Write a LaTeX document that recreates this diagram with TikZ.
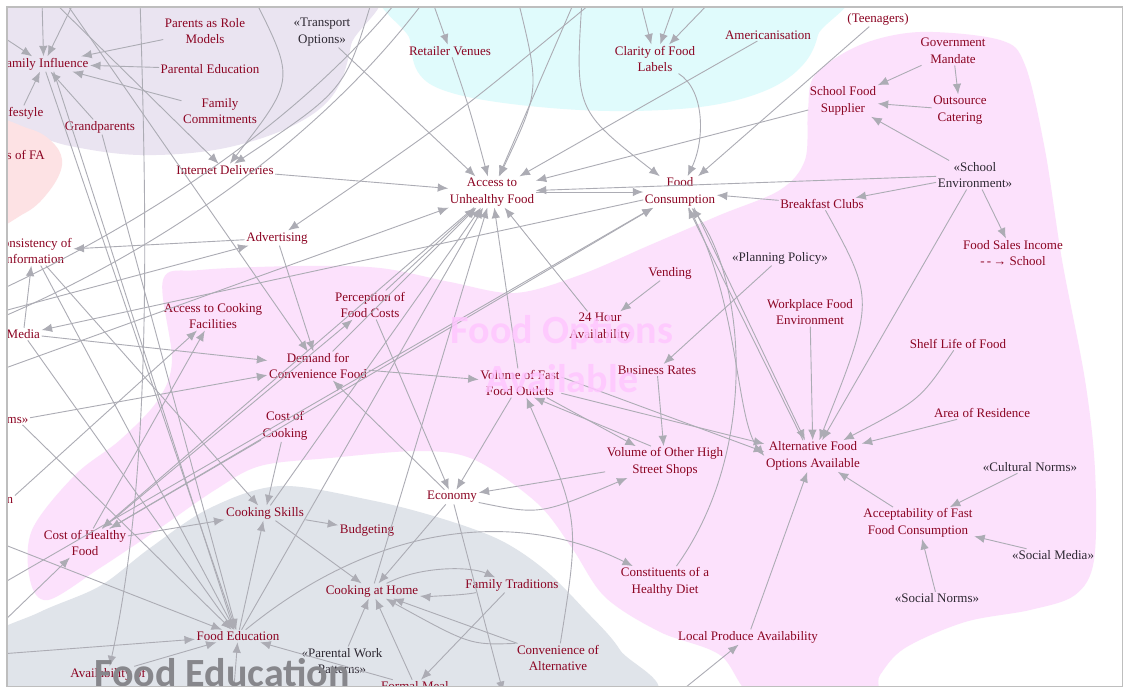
\documentclass[tikz,border=0pt]{standalone}
\usepackage{fontspec}
\setmainfont{Liberation Serif}
\newfontfamily\titlefont{Carlito}
\usetikzlibrary{arrows.meta}
\definecolor{txtred}{RGB}{140,5,35}
\definecolor{txtblk}{RGB}{45,40,50}
\definecolor{lnc}{RGB}{172,172,180}
\definecolor{lav}{RGB}{234,228,241}
\definecolor{salmon}{RGB}{253,226,228}
\definecolor{cyanbg}{RGB}{224,251,252}
\definecolor{pinkbg}{RGB}{252,225,252}
\definecolor{greybg}{RGB}{224,228,234}
\definecolor{titlepink}{RGB}{255,198,255}
\definecolor{titlegrey}{RGB}{135,135,140}
\definecolor{framec}{RGB}{190,190,190}
\begin{document}
\begin{tikzpicture}[x=1pt,y=-1pt,
  lbl/.style={font=\fontsize{13}{16.5}\selectfont, text=txtred, align=center, inner sep=1.5pt},
  stereo/.style={lbl, text=txtblk},
  edge/.style={draw=lnc, line width=0.9pt, -{Latex[length=10.5pt,width=8.5pt]}},
  plain/.style={draw=lnc, line width=0.9pt},
  titl/.style={font=\titlefont\bfseries\fontsize{40}{52}\selectfont, inner sep=0pt}
]
\useasboundingbox (0,0) rectangle (1124,688);
\fill[white] (0,0) rectangle (1124,688);
\begin{scope}
\clip (7.5,7.5) rectangle (1122.5,686.5);
% ---------- background regions ----------
\fill[lav] plot[smooth cycle, tension=0.6] coordinates {(-20,-20) (355,-20) (351,45) (333,95) (290,127) (220,149) (140,155) (70,146) (25,132) (-20,124)};
\fill[salmon] plot[smooth cycle, tension=0.6] coordinates {(-20,124) (30,129) (55,145) (62,165) (50,190) (25,213) (-20,226)};
\fill[cyanbg] plot[smooth cycle, tension=0.6] coordinates {(408,-20) (410,40) (420,75) (452,93) (520,105) (610,111) (700,107) (762,92) (800,68) (818,35) (822,-20)};
\fill[pinkbg] plot[smooth cycle, tension=0.55] coordinates {(163,280) (200,270) (300,266) (380,268) (450,282) (515,293) (580,275) (650,245) (720,215) (780,190) (805,160) (808,110) (815,75) (860,45) (920,32) (1000,40) (1025,65) (1045,150) (1062,260) (1085,380) (1095,470) (1094,560) (1075,595) (1030,610) (965,622) (905,648) (880,675) (868,700) (760,700) (720,655) (660,632) (605,597) (572,548) (537,503) (475,460) (420,451) (330,458) (260,466) (215,490) (160,528) (100,568) (48,600) (30,580) (32,530) (75,475) (120,440) (158,400) (172,360)};
\fill[greybg] plot[smooth cycle, tension=0.55] coordinates {(-20,645) (40,612) (100,586) (150,548) (210,508) (280,486) (370,500) (440,518) (500,540) (545,570) (585,610) (620,650) (640,700) (300,720) (-20,720)};
% ---------- nodes ----------
\node[lbl, anchor=east] (FI) at (90,64) {Family Influence};
\node[lbl] (PRM) at (205,31) {Parents as Role\\Models};
\node[lbl] (PE) at (210,69) {Parental Education};
\node[lbl] (FCm) at (220,111) {Family\\Commitments};
\node[lbl, anchor=east] (LS) at (45,113) {Lifestyle};
\node[lbl] (GP) at (100,127) {Grandparents};
\node[stereo] (TO) at (322,32) {«Transport\\Options»};
\node[lbl, anchor=west] (SFA) at (5,155) {s of FA};
\node[lbl] (RV) at (450,51) {Retailer Venues};
\node[lbl] (CFL) at (655,59) {Clarity of Food\\Labels};
\node[lbl] (AM) at (768,35) {Americanisation};
\node[lbl] (TEEN) at (878,19) {(Teenagers)};
\node[lbl] (GM) at (953,51) {Government\\Mandate};
\node[lbl] (SFS) at (843,101) {School Food\\Supplier};
\node[lbl] (OC) at (960,110) {Outsource\\Catering};
\node[stereo] (SE) at (975,175) {«School\\Environment»};
\node[lbl] (BC) at (822,204) {Breakfast Clubs};
\node[lbl] (FSI) at (1013,253) {Food Sales Income\\-\,-\,→ School};
\node[lbl] (AUF) at (492,192) {Access to\\Unhealthy Food};
\node[lbl] (FCn) at (680,192) {Food\\Consumption};
\node[lbl] (ID) at (225,170) {Internet Deliveries};
\node[lbl] (ADV) at (277,238) {Advertising};
\node[lbl] (CI) at (33,251) {Consistency of\\Information};
\node[lbl, anchor=west] (MED) at (5,334) {Media};
\node[lbl] (ACF) at (213,316) {Access to Cooking\\Facilities};
\node[lbl] (PFC) at (370,305) {Perception of\\Food Costs};
\node[lbl] (DCF) at (318,366) {Demand for\\Convenience Food};
\node[lbl] (CoC) at (285,426) {Cost of\\Cooking};
\node[lbl] (VEN) at (670,273) {Vending};
\node[lbl] (H24) at (600,327) {24 Hour\\Availability};
\node[lbl] (VFF) at (520,383) {Volume of Fast\\Food Outlets};
\node[lbl] (BR) at (657,370) {Business Rates};
\node[stereo] (PP) at (780,258) {«Planning Policy»};
\node[lbl] (WFE) at (810,312) {Workplace Food\\Environment};
\node[lbl] (SL) at (958,344) {Shelf Life of Food};
\node[lbl] (AR) at (982,413) {Area of Residence};
\node[lbl] (AFO) at (813,456) {Alternative Food\\Options Available};
\node[stereo] (CN) at (1030,467) {«Cultural Norms»};
\node[lbl] (AFC) at (918,523) {Acceptability of Fast\\Food Consumption};
\node[stereo] (SM) at (1053,555) {«Social Media»};
\node[stereo] (SN) at (937,598) {«Social Norms»};
\node[lbl] (VOS) at (665,462) {Volume of Other High\\Street Shops};
\node[lbl] (ECO) at (452,497) {Economy};
\node[lbl] (CHD) at (665,582) {Constituents of a\\Healthy Diet};
\node[lbl] (LPA) at (748,637) {Local Produce Availability};
\node[lbl] (CS) at (265,513) {Cooking Skills};
\node[lbl] (BUD) at (367,530) {Budgeting};
\node[lbl] (CHF) at (85,543) {Cost of Healthy\\Food};
\node[lbl] (CAH) at (372,591) {Cooking at Home};
\node[lbl] (FT) at (512,585) {Family Traditions};
\node[lbl] (FE) at (238,636) {Food Education};
\node[lbl] (CoA) at (558,658) {Convenience of\\Alternative};
\node[stereo] (PW) at (342,661) {«Parental Work\\Patterns»};
\node[lbl] (FM) at (415,686) {Formal Meal};
\node[lbl] (AV) at (108,674) {Availability of};
\node[lbl, anchor=west] (MS) at (5,420) {ms»};
\node[lbl, anchor=west] (N) at (5,500) {n};
% ---------- free ends ----------
\coordinate (t1) at (42,0);   \coordinate (t2) at (75,0);   \coordinate (t3) at (52,0);
\coordinate (t4) at (64,0);   \coordinate (t5) at (255,0);  \coordinate (t6) at (372,0);
\coordinate (t7) at (140,0);  \coordinate (t8) at (398,0);  \coordinate (t9) at (425,0);
\coordinate (t10) at (432,0); \coordinate (t11) at (518,0); \coordinate (t12) at (575,0);
\coordinate (t13) at (582,0); \coordinate (t14) at (595,0); \coordinate (t16) at (640,0);
\coordinate (t17) at (676,0); \coordinate (t18) at (712,0);
\coordinate (l1) at (0,35);   \coordinate (l2) at (0,290);  \coordinate (l3) at (0,318);
\coordinate (l4) at (0,312);  \coordinate (l5) at (0,370);  \coordinate (l7) at (0,625);
\coordinate (l8) at (0,543);  \coordinate (l9) at (0,654);  \coordinate (l10) at (0,585);
\coordinate (b1) at (503,692); \coordinate (b2) at (233,700); \coordinate (b3) at (670,700);
% ---------- connectors ----------
\draw[edge] (PRM) -- (FI);
\draw[edge] (PE) -- (FI);
\draw[edge] (FCm) -- (FI);
\draw[edge] (GP) -- (FI);
\draw[edge] (LS) -- (FI);
\draw[edge] (t1) -- (FI);
\draw[edge] (t2) -- (FI);
\draw[edge] (l1) -- (FI);
\draw[edge] (t3) -- (ID);
\draw[edge] (t4) -- (DCF);
\draw[edge] (t5) .. controls (295,80) .. (ID);
\draw[edge] (t6) .. controls (345,90) .. (ID);
\draw[edge] ([xshift=2pt]FI.south) -- (FE);
\draw[edge] ([xshift=10pt]FI.south) -- ([xshift=-4pt]FE.north);
\draw[edge] (t7) .. controls (148,250) and (150,480) .. (AV);
\draw[edge] (GP) -- (FE);
\draw[edge] (TO) -- (AUF);
\draw[edge] (ID) -- (AUF);
\draw[plain] (t8) .. controls (300,120) and (150,220) .. (l2);
\draw[plain] (t9) .. controls (320,140) and (160,250) .. (l3);
\draw[edge] (FCn) -- (MED);
\draw[edge] (l4) -- (ADV);
\draw[edge] (l5) -- (AUF);
\draw[edge] (MED) -- (CI);
\draw[edge] (ADV) -- (CI);
\draw[edge] (MED) -- (DCF);
\draw[edge] (MS) -- (DCF);
\draw[edge] (ADV) -- (DCF);
\draw[edge] (ECO) -- (DCF);
\draw[edge] (DCF) -- (VFF);
\draw[edge] (DCF) -- (AUF);
\draw[edge] (PFC) -- (AUF);
\draw[edge] (PFC) -- (ECO);
\draw[edge] (CHF) -- (ACF);
\draw[edge] (N) -- (ACF);
\draw[edge] (CHF) -- (PFC);
\draw[edge] (CHF) -- (CS);
\draw[edge] (CoC) -- (CS);
\draw[edge] (CI) -- (CS);
\draw[edge] (CoC) -- (CHF);
\draw[edge] (AUF) -- (CHF);
\draw[edge] (CS) -- (AUF);
\draw[edge] (FE) -- (AUF);
\draw[edge] (CAH) -- (AUF);
\draw[edge] (VFF) -- (AUF);
\draw[edge] (H24) -- (AUF);
\draw[edge] (VEN) -- (H24);
\draw[edge] (RV) .. controls (470,110) .. (AUF);
\draw[edge] (t10) -- (RV);
\draw[edge] (t11) .. controls (540,90) .. (AUF);
\draw[edge] (t12) -- (AUF);
\draw[edge] (t13) .. controls (575,110) .. (FCn);
\draw[edge] (t14) .. controls (450,120) .. (ADV);
\draw[edge] (t16) -- (CFL);
\draw[edge] (t17) -- (CFL);
\draw[edge] (t18) -- (CFL);
\draw[edge] (CFL) .. controls (705,90) and (705,140) .. (FCn);
\draw[edge] (AM) -- (AUF);
\draw[edge] (SFS) -- (AUF);
\draw[edge] (SE) -- (AUF);
\draw[edge] (TEEN) -- (FCn);
\draw[edge] (AUF) -- (FCn);
\draw[edge] (BC) -- (FCn);
\draw[edge] (SE) -- (BC);
\draw[edge] (SE) -- (SFS);
\draw[edge] (GM) -- (SFS);
\draw[edge] (GM) -- (OC);
\draw[edge] (OC) -- (SFS);
\draw[edge] (SE) -- (FSI);
\draw[edge] (SE) -- (AFO);
\draw[edge] (BC) .. controls (875,300) .. (AFO);
\draw[edge] (WFE) -- (AFO);
\draw[edge] (PP) -- (BR);
\draw[edge] ([xshift=14pt]FCn.south) -- ([xshift=-8pt]AFO.north);
\draw[edge] ([xshift=-10pt]AFO.north) -- ([xshift=8pt]FCn.south);
\draw[edge] (CHD) .. controls (760,450) and (745,280) .. (FCn);
\draw[edge] (FCn) .. controls (740,300) and (735,420) .. (AFO.west);
\draw[edge] (SL) .. controls (920,400) .. (AFO);
\draw[edge] (AR) -- (AFO);
\draw[edge] (CN) -- (AFC);
\draw[edge] (SM) -- (AFC);
\draw[edge] (SN) -- (AFC);
\draw[edge] (AFC) -- (AFO);
\draw[edge] (LPA) -- (AFO);
\draw[edge] (VFF) -- (AFO);
\draw[edge] ([yshift=6pt]VFF.east) -- ([yshift=4pt]AFO.west);
\draw[edge] (VFF) -- (VOS);
\draw[edge] ([xshift=-14pt]VOS.north) -- ([xshift=14pt]VFF.south);
\draw[edge] (BR) -- (VOS);
\draw[edge] (ECO) .. controls (540,515) .. (VOS);
\draw[edge] (VFF) -- (ECO);
\draw[edge] (VOS) -- (ECO);
\draw[edge] (CoA) .. controls (580,520) .. (VFF);
\draw[edge] (CHF) -- (FCn);
\draw[edge] (l7) -- (CHF);
\draw[edge] (l10) -- (FCn);
\draw[edge] (ECO) -- (CAH);
\draw[edge] (ECO) -- (b1);
\draw[edge] (CS) -- (CAH);
\draw[edge] (CS) -- (BUD);
\draw[edge] (FE) -- (CS);
\draw[edge] (FE) .. controls (380,520) and (520,510) .. (CHD);
\draw[edge] (CAH) .. controls (420,566) and (470,566) .. (FT);
\draw[edge] (FT) .. controls (460,596) and (420,596) .. (CAH);
\draw[edge] (FT) -- (FM);
\draw[edge] (CoA) -- (CAH);
\draw[edge] (CoA.north west) .. controls (470,645) .. (CAH);
\draw[edge] (PW) -- (CAH);
\draw[edge] (FM) -- (CAH);
\draw[edge] (FM) -- (FE);
\draw[edge] (AV) -- (FE);
\draw[edge] (l8) -- (FE);
\draw[edge] (l9) -- (FE);
\draw[edge] (MED) -- (FE);
\draw[edge] (CI) -- (FE);
\draw[edge] (MS) -- (FE);
\draw[edge] (b2) -- (FE);
\draw[edge] (b3) -- (LPA);
% ---------- region titles ----------
\node[titl, text=titlepink, text opacity=0.85, anchor=base] (T1) at (562,343) {Food Options};
\node[titl, text=titlepink, text opacity=0.85, anchor=base] (T2) at (562,392) {Available};
\node[titl, text=titlegrey, anchor=base] (T3) at (222,686) {Food Education};
\end{scope}
\draw[framec, line width=1.2pt] (7,7) rectangle (1122.5,686.5);
\end{tikzpicture}
\end{document}
